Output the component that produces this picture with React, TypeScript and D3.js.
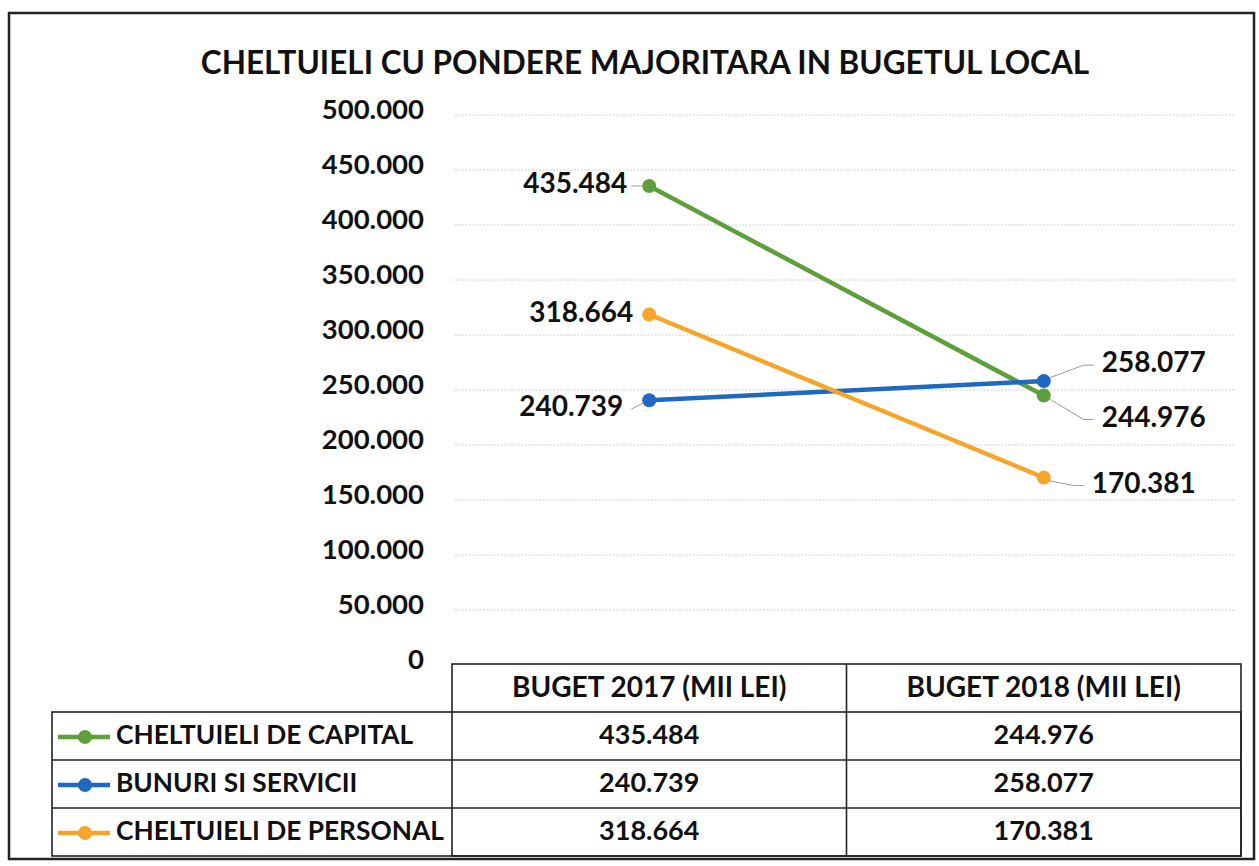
import React from "react";
import * as d3 from "d3";

const title = "CHELTUIELI CU PONDERE MAJORITARA IN BUGETUL LOCAL";
const categories = ["BUGET 2017 (MII LEI)", "BUGET 2018 (MII LEI)"];
const seriesNames = ["CHELTUIELI DE CAPITAL", "BUNURI SI SERVICII", "CHELTUIELI DE PERSONAL"];
const capitalValues = [435484, 244976];
const bunuriValues = [240739, 258077];
const personalValues = [318664, 170381];
const seriesColors = ["#5E9F3B", "#1F69C2", "#F5A52A"];
const yTicks = [0, 50000, 100000, 150000, 200000, 250000, 300000, 350000, 400000, 450000, 500000];

// label placement per series per category
const labelPlacement = [
  [{ side: "left", dy: 0, leader: true }, { side: "right", dy: 24, leader: true }],
  [{ side: "left", dy: 9, leader: true }, { side: "right", dy: -16, leader: true }],
  [{ side: "left", dy: 0, leader: false }, { side: "right", dy: 8, leader: true }],
];

const W = 1259;
const H = 866;
const FONT = "Lato, 'Open Sans', sans-serif";

const locale = d3.formatLocale({ decimal: ",", thousands: ".", grouping: [3], currency: ["", ""] });
const fmt = locale.format(",d");

export default function App() {
  const series = [capitalValues, bunuriValues, personalValues];
  const plotLeft = 452;
  const plotRight = 1241;
  const y = d3.scaleLinear().domain([0, 500000]).range([665, 115]);
  const x = d3.scaleBand<string>().domain(categories).range([plotLeft, plotRight]).padding(0);
  const cx = (c: string) => (x(c) as number) + x.bandwidth() / 2;
  const line = d3
    .line<number>()
    .x((_, i) => cx(categories[i]))
    .y((d) => y(d));

  const tableTop = 664;
  const rowH = 48;
  const legendLeft = 52;

  return (
    <svg
      width={W}
      height={H}
      style={{ position: "absolute", left: 0, top: 0, background: "#fff" }}
      fontFamily={FONT}
    >
      <rect x={0} y={0} width={W} height={H} fill="#fff" />
      <rect x={9} y={13} width={1245} height={846} fill="none" stroke="#222" strokeWidth={2.5} />
      <text x={645} y={74} textAnchor="middle" fontSize={31.5} fontWeight={700} fill="#111">
        {title}
      </text>
      {/* gridlines */}
      {yTicks.filter((t) => t > 0).map((t) => (
        <line
          key={t}
          x1={plotLeft + 3}
          x2={plotRight - 5}
          y1={y(t)}
          y2={y(t)}
          stroke="#cccccc"
          strokeWidth={1}
          strokeDasharray="2,1.5"
        />
      ))}
      {/* y tick labels */}
      {yTicks.map((t) => (
        <text
          key={t}
          x={424}
          y={y(t) - 3}
          textAnchor="end"
          dominantBaseline="middle"
          fontSize={27.5}
          fontWeight={700}
          fill="#111"
        >
          {t === 0 ? "0" : fmt(t)}
        </text>
      ))}
      {/* lines */}
      {series.map((vals, si) => (
        <path key={si} d={line(vals) || ""} fill="none" stroke={seriesColors[si]} strokeWidth={4.5} />
      ))}
      {/* leaders and labels */}
      {series.map((vals, si) =>
        vals.map((v, ci) => {
          const px = cx(categories[ci]);
          const py = y(v);
          const p = labelPlacement[si][ci];
          const ly = py + p.dy;
          if (p.side === "left") {
            const tx = px - 22;
            return (
              <g key={`${si}-${ci}`}>
                {p.leader && (
                  <polyline
                    points={`${px - 6},${py + p.dy * 0.3} ${tx + 4},${ly}`}
                    fill="none"
                    stroke="#9a9a9a"
                    strokeWidth={1}
                  />
                )}
                <text
                  x={p.leader ? tx - (si === 1 ? 4 : 0) : px - 16}
                  y={ly}
                  textAnchor="end"
                  dominantBaseline="middle"
                  fontSize={28}
                  fontWeight={700}
                  fill="#111"
                >
                  {fmt(v)}
                </text>
              </g>
            );
          }
          const tx = px + (si === 2 ? 48 : 58);
          return (
            <g key={`${si}-${ci}`}>
              {p.leader && (
                <polyline
                  points={`${px + 5},${py + (p.dy > 0 ? 3 : -3)} ${tx - 18},${ly} ${tx - 8},${ly}`}
                  fill="none"
                  stroke="#9a9a9a"
                  strokeWidth={1}
                />
              )}
              <text
                x={tx}
                y={ly}
                textAnchor="start"
                dominantBaseline="middle"
                fontSize={28}
                fontWeight={700}
                fill="#111"
              >
                {fmt(v)}
              </text>
            </g>
          );
        })
      )}
      {/* markers */}
      {series.map((vals, si) =>
        vals.map((v, ci) => (
          <circle key={`m${si}-${ci}`} cx={cx(categories[ci])} cy={y(v)} r={7} fill={seriesColors[si]} />
        ))
      )}
      {/* data table */}
      <g stroke="#222" strokeWidth={1.6} fill="none">
        <rect x={plotLeft} y={tableTop} width={plotRight - plotLeft} height={rowH * 4} />
        <rect x={legendLeft} y={tableTop + rowH} width={plotRight - legendLeft} height={rowH * 3} />
        {[2, 3].map((r) => (
          <line key={r} x1={legendLeft} x2={plotRight} y1={tableTop + rowH * r} y2={tableTop + rowH * r} />
        ))}
        <line x1={x(categories[1])} x2={x(categories[1])} y1={tableTop} y2={tableTop + rowH * 4} />
      </g>
      {categories.map((c) => (
        <text
          key={c}
          x={cx(c)}
          y={tableTop + rowH / 2 + 2}
          textAnchor="middle"
          dominantBaseline="middle"
          fontSize={28}
          fontWeight={700}
          fill="#111"
        >
          {c}
        </text>
      ))}
      {seriesNames.map((name, si) => {
        const ry = tableTop + rowH * (si + 1) + rowH / 2 + 1;
        return (
          <g key={name}>
            <line x1={58} x2={110} y1={ry} y2={ry} stroke={seriesColors[si]} strokeWidth={4.5} />
            <circle cx={85} cy={ry} r={7} fill={seriesColors[si]} />
            <text
              x={116}
              y={ry}
              dominantBaseline="middle"
              fontSize={26.3}
              fontWeight={700}
              fill="#111"
            >
              {name}
            </text>
            {series[si].map((v, ci) => (
              <text
                key={ci}
                x={cx(categories[ci])}
                y={ry}
                textAnchor="middle"
                dominantBaseline="middle"
                fontSize={27}
                fontWeight={700}
                fill="#111"
              >
                {fmt(v)}
              </text>
            ))}
          </g>
        );
      })}
    </svg>
  );
}
